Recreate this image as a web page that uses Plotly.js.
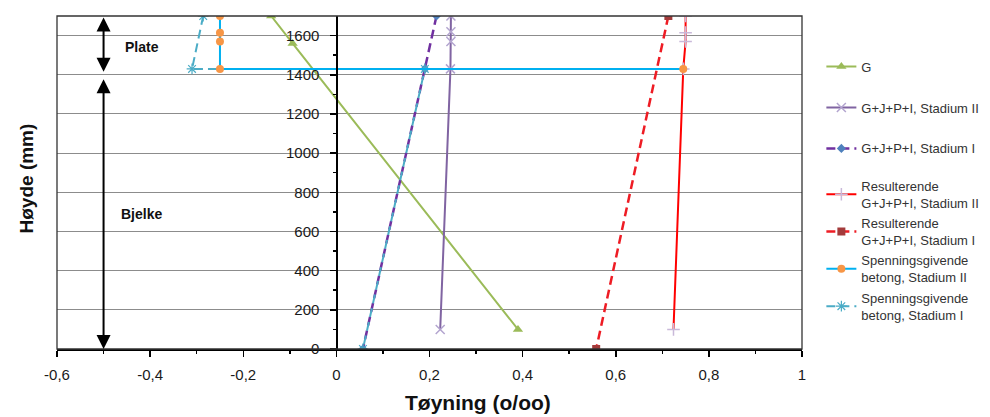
<!DOCTYPE html>
<html>
<head>
<meta charset="utf-8">
<script src="https://cdn.plot.ly/plotly-3.0.1.min.js"></script>
<style>body{margin:0;background:#fff}#chart{width:990px;height:417px}</style>
</head>
<body>
<div id="chart"></div>
<script>
// ---- data ----
const names = [
  "G",
  "G+J+P+I, Stadium II",
  "G+J+P+I, Stadium I",
  "Resulterende<br>G+J+P+I, Stadium II",
  "Resulterende<br>G+J+P+I, Stadium I",
  "Spenningsgivende<br>betong, Stadium II",
  "Spenningsgivende<br>betong, Stadium I"
];
const gX = [-0.14, -0.094, 0.39];
const gY = [1700, 1560, 100];
const s2X = [0.246, 0.246, 0.246, 0.245, 0.223];
const s2Y = [1700, 1620, 1570, 1430, 100];
const s1X = [0.215, 0.19, 0.057];
const s1Y = [1700, 1430, 0];
const r2X = [0.75, 0.75, 0.75, 0.745, 0.724];
const r2Y = [1700, 1615, 1570, 1430, 100];
const r1X = [0.713, 0.558];
const r1Y = [1700, 0];
const sp2X = [-0.25, -0.25, -0.25, -0.25, 0.745];
const sp2Y = [1700, 1615, 1570, 1430, 1430];
const sp1X = [-0.286, -0.31, 0.19, 0.057];
const sp1Y = [1700, 1430, 1430, 0];
const xTickVals = [-0.6, -0.4, -0.2, 0, 0.2, 0.4, 0.6, 0.8, 1];
const xTickText = ["-0,6", "-0,4", "-0,2", "0", "0,2", "0,4", "0,6", "0,8", "1"];
const yTicks = [0, 200, 400, 600, 800, 1000, 1200, 1400, 1600];
const zoneLabels = ["Plate", "Bjelke"];
const zoneTop = [1700, 1385];
const zoneBottom = [1415, 0];
const zoneLabelY = [1542, 689];

const F = "Liberation Sans, Arial, sans-serif";
const traces = [
  {x: gX, y: gY, name: names[0], mode: "lines+markers", legend: "legend", legendgroup: "a",
   line: {color: "#9BBB59", width: 2}, marker: {symbol: "triangle-up", size: 9, color: "#9BBB59"}},
  {x: s2X, y: s2Y, name: names[1], mode: "lines+markers", legend: "legend", legendgroup: "b",
   line: {color: "#8064A2", width: 2}, marker: {symbol: "x-thin-open", size: 9, color: "#B3A5CF", line: {width: 1.5, color: "#B3A5CF"}}},
  {x: s1X, y: s1Y, name: names[2], mode: "lines+markers", legend: "legend", legendgroup: "c",
   line: {color: "#7030A0", width: 2.5, dash: "9px,5px"}, marker: {symbol: "diamond", size: 7, color: "#4F81BD"}},
  {x: r2X, y: r2Y, name: names[3], mode: "lines+markers", legend: "legend2", legendgroup: "d",
   line: {color: "#FF0000", width: 2}, marker: {symbol: "cross-thin-open", size: 9, color: "#C9B9D9", line: {width: 1.5, color: "#C9B9D9"}}},
  {x: r1X, y: r1Y, name: names[4], mode: "lines+markers", legend: "legend2", legendgroup: "e",
   line: {color: "#EE1C24", width: 2.5, dash: "9px,5px"}, marker: {symbol: "square", size: 8, color: "#A33B3B"}},
  {x: sp1X, y: sp1Y, name: names[6], mode: "lines+markers", legend: "legend2", legendgroup: "g", legendrank: 1007,
   line: {color: "#4BACC6", width: 2, dash: "9px,5px"}, marker: {symbol: "asterisk-open", size: 9, color: "#4BACC6", line: {width: 1.2, color: "#4BACC6"}}},
  {x: sp2X, y: sp2Y, name: names[5], mode: "lines+markers", legend: "legend2", legendgroup: "f", legendrank: 1006,
   line: {color: "#00B0F0", width: 2}, marker: {symbol: "circle", size: 8, color: "#F79646"}}
];

const annotations = [];
for (let i = 0; i < zoneLabels.length; i++) {
  annotations.push({x: -0.5, y: zoneBottom[i], ax: -0.5, ay: zoneTop[i], axref: "x", ayref: "y", xref: "x", yref: "y",
    text: "", showarrow: true, arrowhead: 2, arrowside: "end+start", arrowsize: 1.4, arrowwidth: 2, arrowcolor: "#000",
    standoff: 0, startstandoff: 0});
  annotations.push({x: -0.418, y: zoneLabelY[i], xref: "x", yref: "y", text: "<b>" + zoneLabels[i] + "</b>",
    showarrow: false, font: {family: F, size: 14, color: "#111"}});
}
annotations.push({x: 0.565, y: -0.2, xref: "paper", yref: "paper", text: "<b>Tøyning (o/oo)</b>", showarrow: false,
  font: {family: F, size: 21, color: "#111"}});
annotations.push({x: -0.058, y: 0.513, xref: "paper", yref: "paper", text: "<b>Høyde (mm)</b>", showarrow: false, textangle: -90,
  font: {family: F, size: 19, color: "#111"}});

const layout = {
  width: 990, height: 417,
  margin: {l: 57, r: 188, t: 16, b: 68, autoexpand: false},
  paper_bgcolor: "#fff", plot_bgcolor: "#fff",
  separators: ", ",
  font: {family: F, size: 15, color: "#1a1a1a"},
  showlegend: true,
  xaxis: {range: [-0.6, 1], tickvals: xTickVals, ticktext: xTickText, showgrid: false, zeroline: false,
    showline: true, linecolor: "#000", linewidth: 1.5, ticks: "outside", ticklen: 6, tickwidth: 1.5, tickcolor: "#000",
    minor: {tickvals: [-0.5, -0.3, -0.1, 0.1, 0.3, 0.5, 0.7, 0.9], ticks: "outside", ticklen: 3, tickcolor: "#000", showgrid: false},
    ticklabelstandoff: 5, fixedrange: true, automargin: false},
  yaxis: {range: [0, 1700], tickvals: yTicks, anchor: "free", position: 0.375, showgrid: true, gridcolor: "#8C8C8C", gridwidth: 1,
    zeroline: false, showline: true, linecolor: "#000", linewidth: 1.5, ticks: "outside", ticklen: 6, tickwidth: 1.5, tickcolor: "#000",
    minor: {tickvals: [100, 300, 500, 700, 900, 1100, 1300, 1500], ticks: "outside", ticklen: 3, tickcolor: "#000", showgrid: false},
    ticklabelstandoff: 8, fixedrange: true, automargin: false},
  shapes: [{type: "rect", xref: "paper", yref: "paper", x0: 0, x1: 1, y0: 0, y1: 1, line: {color: "#333", width: 1.3}}],
  legend: {x: 1.026, xanchor: "left", y: 0.893, yanchor: "top", traceorder: "grouped", tracegroupgap: 21, bgcolor: "rgba(0,0,0,0)",
    font: {family: F, size: 13, color: "#333"}},
  legend2: {x: 1.026, xanchor: "left", y: 0.535, yanchor: "top", traceorder: "grouped", tracegroupgap: 0.5, bgcolor: "rgba(0,0,0,0)",
    font: {family: F, size: 13, color: "#333"}},
  annotations: annotations
};
Plotly.newPlot("chart", traces, layout, {displayModeBar: false, staticPlot: true});
</script>
</body>
</html>
